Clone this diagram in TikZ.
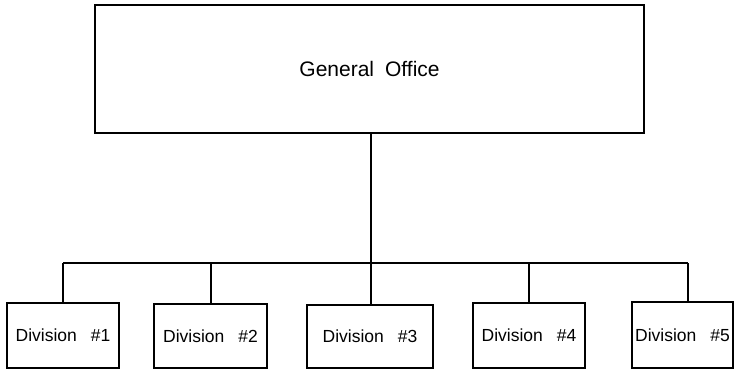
\documentclass[tikz,border=0pt]{standalone}
\usepackage{fontspec}
\setmainfont{Liberation Sans}
\begin{document}
\begin{tikzpicture}[x=1pt,y=-1pt,
  box/.style={draw, line width=1.3pt, rectangle, inner sep=0pt, font=\fontsize{17.5}{20}\selectfont},
  conn/.style={line width=1.3pt}]
\useasboundingbox (0,0) rectangle (741,370);
\node[box, minimum width=549pt, minimum height=128pt, font=\fontsize{21}{25}\selectfont] (go) at (369.5,69) {General\hspace{11pt}Office};
\node[box, minimum width=112pt, minimum height=65pt] (d1) at (63,335.5) {Division\hspace{14pt}\#1};
\node[box, minimum width=113pt, minimum height=64pt] (d2) at (210.5,336) {Division\hspace{14pt}\#2};
\node[box, minimum width=126pt, minimum height=63pt] (d3) at (370,336.5) {Division\hspace{14pt}\#3};
\node[box, minimum width=112pt, minimum height=65pt] (d4) at (529,335.5) {Division\hspace{14pt}\#4};
\node[box, minimum width=101pt, minimum height=66pt] (d5) at (682.5,335) {Division\hspace{14pt}\#5};
\coordinate (b1) at (63,263);
\coordinate (b2) at (211,263);
\coordinate (b3) at (371,263);
\coordinate (b4) at (529,263);
\coordinate (b5) at (688,263);
\draw[conn] (go.south -| b3) -- (b3);
\draw[conn] (b1) -- (b5);
\draw[conn] (b1) -- (b1 |- d1.north);
\draw[conn] (b2) -- (b2 |- d2.north);
\draw[conn] (b3) -- (b3 |- d3.north);
\draw[conn] (b4) -- (b4 |- d4.north);
\draw[conn] (b5) -- (b5 |- d5.north);
\end{tikzpicture}
\end{document}
